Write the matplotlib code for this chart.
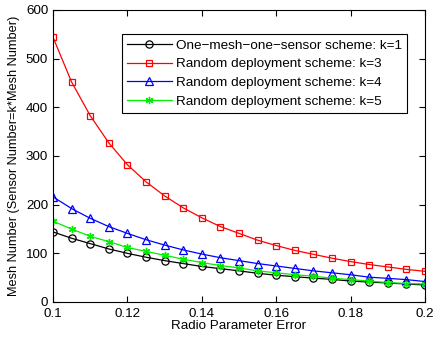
import numpy as np
import matplotlib
matplotlib.use("Agg")
import matplotlib.pyplot as plt

plt.rcParams['font.family'] = ['Liberation Sans', 'DejaVu Sans']

x = [0.1 + 0.005 * i for i in range(21)]
k1 = [144, 131, 120, 109, 100, 92, 85, 79, 73, 68.5, 64, 59, 55, 52, 49, 46.5, 43, 41, 39, 37, 35]
k3 = [544, 452, 383, 327, 282, 247, 218, 193.5, 173, 155, 141, 127, 116, 106, 98, 90, 83, 77, 72, 67, 63]
k4 = [216, 192, 172, 155, 141, 128, 117, 107, 98.5, 91, 85, 79, 74, 69, 64, 60, 56, 51, 48.6, 46, 42]
k5 = [166, 150, 135, 124, 112, 104, 96, 88, 81, 75, 70, 64, 60, 56, 53, 49, 46, 43, 40, 38, 37]

labels = ["One\u2212mesh\u2212one\u2212sensor scheme: k=1",
          "Random deployment scheme: k=3",
          "Random deployment scheme: k=4",
          "Random deployment scheme: k=5"]

fig = plt.figure(figsize=(4.35, 3.41), dpi=100)
ax = fig.add_axes([53/435, 1 - 302/341, (425-53)/435, (302-10)/341])

ax.plot(x, k1, color='black', marker='o', mfc='none', ms=5.2, lw=0.9, mew=0.9, label=labels[0])
ax.plot(x, k3, color='red', marker='s', mfc='none', ms=4.6, lw=0.9, mew=0.9, label=labels[1])
ax.plot(x, k4, color='blue', marker='^', mfc='none', ms=5.8, lw=0.9, mew=0.9, label=labels[2])
ax.plot(x, k5, color='#00ee00', marker=(6, 2, 0), ms=5.2, lw=0.9, mew=1.0, label=labels[3])

ax.set_xlim(0.1, 0.2)
ax.set_ylim(0, 600)
ax.set_xticks([0.1, 0.12, 0.14, 0.16, 0.18, 0.2])
ax.set_xticklabels(['0.1', '0.12', '0.14', '0.16', '0.18', '0.2'])
ax.set_yticks([0, 100, 200, 300, 400, 500, 600])
ax.tick_params(direction='in', top=True, right=True, labelsize=9.6, length=4)
ax.tick_params(axis='x', pad=4)
ax.set_xlabel('Radio Parameter Error', fontsize=9.6, labelpad=0.5)
ax.set_ylabel('Mesh Number (Sensor Number=k*Mesh Number)', fontsize=9.2, labelpad=4)

leg = ax.legend(loc='upper right', bbox_to_anchor=(0.952, 0.918), fontsize=9.7, fancybox=False,
                edgecolor='black', framealpha=1, handlelength=3.3, borderpad=0.4,
                labelspacing=0.46, handletextpad=0.3, borderaxespad=0)
leg.get_frame().set_linewidth(0.8)

fig.savefig('out.png', dpi=100)
